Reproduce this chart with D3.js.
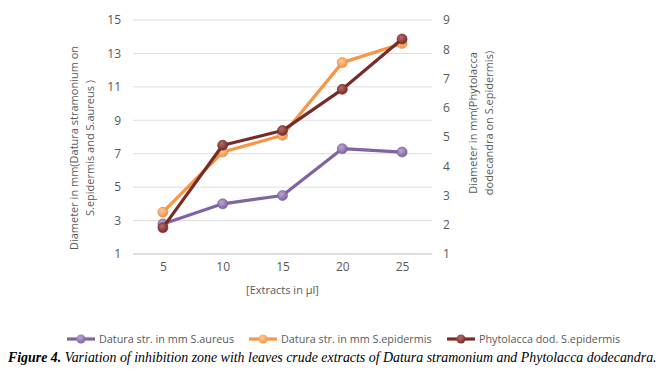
<!DOCTYPE html>
<html lang="en">
<head>
<meta charset="UTF-8">
<title>Inhibition zone</title>
<script src="https://d3js.org/d3.v7.min.js"></script>
<style>
  body { margin: 0; background: #fff; }
  svg text { font-family: "Open Sans", "Liberation Sans", sans-serif; fill: #595959; }
</style>
</head>
<body>
<div id="chart"></div>
<script>
// Data
var extracts = ["5", "10", "15", "20", "25"];
var daturaAureus = [2.8, 4.0, 4.5, 7.3, 7.1];        // left axis
var daturaEpidermis = [3.5, 7.1, 8.1, 12.45, 13.6];  // left axis
var phytolaccaEpidermis = [1.9, 4.72, 5.22, 6.63, 8.35]; // right axis
var leftTicks = [1, 3, 5, 7, 9, 11, 13, 15];
var rightTicks = [1, 2, 3, 4, 5, 6, 7, 8, 9];

var series = [
  { name: "Datura str. in mm S.aureus", values: daturaAureus, color: "#8064a2", light: "#b9a6d3", axis: "left" },
  { name: "Datura str. in mm S.epidermis", values: daturaEpidermis, color: "#f79646", light: "#fcc89a", axis: "left" },
  { name: "Phytolacca dod. S.epidermis", values: phytolaccaEpidermis, color: "#772c2a", light: "#b86a66", axis: "right" }
];

var W = 664, H = 374;
var plot = { left: 133, right: 432, top: 20, bottom: 254 };

var svg = d3.select("#chart").append("svg")
  .attr("width", W)
  .attr("height", H);

// gradients for the round markers
var defs = svg.append("defs");
series.forEach(function (s, i) {
  var g = defs.append("radialGradient")
    .attr("id", "grad" + i)
    .attr("cx", "40%").attr("cy", "35%").attr("r", "65%");
  g.append("stop").attr("offset", "0%").attr("stop-color", s.light);
  g.append("stop").attr("offset", "100%").attr("stop-color", s.color);
});

var x = d3.scalePoint()
  .domain(extracts)
  .range([plot.left, plot.right])
  .padding(0.5);

var yLeft = d3.scaleLinear()
  .domain([1, 15])
  .range([plot.bottom, plot.top]);

var yRight = d3.scaleLinear()
  .domain([1, 9])
  .range([plot.bottom, plot.top]);

// gridlines
svg.append("g")
  .selectAll("line")
  .data(leftTicks)
  .enter()
  .append("line")
  .attr("x1", plot.left)
  .attr("x2", plot.right)
  .attr("y1", function (d) { return yLeft(d); })
  .attr("y2", function (d) { return yLeft(d); })
  .attr("stroke", function (d) { return d === 1 ? "#bfbfbf" : "#dedede"; })
  .attr("stroke-width", 1);

// left axis
var leftAxis = svg.append("g")
  .attr("transform", "translate(" + (plot.left - 12) + ",0)")
  .call(d3.axisLeft(yLeft).tickValues(leftTicks).tickSize(0).tickPadding(0));
leftAxis.select(".domain").remove();
leftAxis.selectAll("text").style("font-size", "12px").style("fill", "#595959");

// right axis
var rightAxis = svg.append("g")
  .attr("transform", "translate(" + (plot.right + 11) + ",0)")
  .call(d3.axisRight(yRight).tickValues(rightTicks).tickSize(0).tickPadding(0));
rightAxis.select(".domain").remove();
rightAxis.selectAll("text").style("font-size", "12px").style("fill", "#595959");

// bottom axis
var bottomAxis = svg.append("g")
  .attr("transform", "translate(0," + (plot.bottom + 8) + ")")
  .call(d3.axisBottom(x).tickSize(0).tickPadding(0));
bottomAxis.select(".domain").remove();
bottomAxis.selectAll("text").style("font-size", "12px").style("fill", "#595959");

// axis titles
svg.append("text")
  .attr("text-anchor", "middle")
  .attr("x", (plot.left + plot.right) / 2)
  .attr("y", 294)
  .style("font-size", "11px")
  .text("[Extracts in \u00b5l]");

var leftTitle = svg.append("text")
  .attr("text-anchor", "middle")
  .attr("transform", "translate(78,148) rotate(-90)")
  .style("font-size", "11px");
leftTitle.append("tspan").attr("x", 0).attr("dy", 0).text("Diameter in mm(Datura stramonium on");
leftTitle.append("tspan").attr("x", 0).attr("dy", 15.5).text("S.epidermis and S.aureus )");

var rightTitle = svg.append("text")
  .attr("text-anchor", "middle")
  .attr("transform", "translate(477,123) rotate(-90)")
  .style("font-size", "11px");
rightTitle.append("tspan").attr("x", 0).attr("dy", 0).text("Diameter in mm(Phytolacca");
rightTitle.append("tspan").attr("x", 0).attr("dy", 15.5).text("dodecandra on S.epidermis)");

// lines and markers
series.forEach(function (s, i) {
  var y = s.axis === "left" ? yLeft : yRight;
  var line = d3.line()
    .x(function (d, j) { return x(extracts[j]); })
    .y(function (d) { return y(d); });

  svg.append("path")
    .datum(s.values)
    .attr("fill", "none")
    .attr("stroke", s.color)
    .attr("stroke-width", 3.2)
    .attr("stroke-linejoin", "round")
    .attr("d", line);

  svg.append("g")
    .selectAll("circle")
    .data(s.values)
    .enter()
    .append("circle")
    .attr("cx", function (d, j) { return x(extracts[j]); })
    .attr("cy", function (d) { return y(d); })
    .attr("r", 5)
    .attr("fill", "url(#grad" + i + ")")
    .attr("stroke", d3.color(s.color).darker(0.4))
    .attr("stroke-width", 0.6);
});

// legend
var legendX = [67, 249, 447];
var legend = svg.append("g")
  .selectAll("g")
  .data(series)
  .enter()
  .append("g")
  .attr("transform", function (d, i) { return "translate(" + legendX[i] + ",339)"; });

legend.append("line")
  .attr("x1", 0).attr("x2", 28)
  .attr("y1", 0).attr("y2", 0)
  .attr("stroke", function (d) { return d.color; })
  .attr("stroke-width", 3.2);

legend.append("circle")
  .attr("cx", 14).attr("cy", 0).attr("r", 4.5)
  .attr("fill", function (d, i) { return "url(#grad" + i + ")"; });

legend.append("text")
  .attr("x", 32)
  .attr("y", 4)
  .style("font-size", "10.8px")
  .text(function (d) { return d.name; });

// caption
var caption = svg.append("text")
  .attr("x", 8)
  .attr("y", 362)
  .style("font-family", "'Liberation Serif', 'Times New Roman', serif")
  .style("font-size", "13.9px")
  .style("font-style", "italic")
  .style("fill", "#000");
caption.append("tspan").style("font-weight", "bold").text("Figure 4. ");
caption.append("tspan").text("Variation of inhibition zone with leaves crude extracts of Datura stramonium and Phytolacca dodecandra.");
</script>
</body>
</html>
